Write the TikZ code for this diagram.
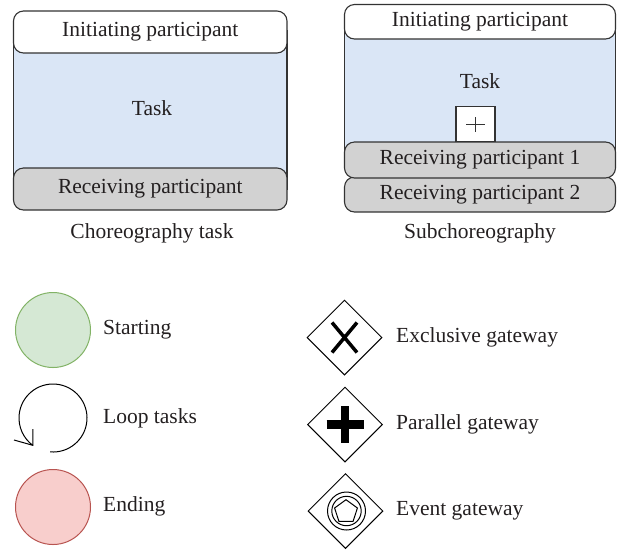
\documentclass[tikz,border=0pt]{standalone}
\usepackage{fontspec}
\setmainfont{Liberation Serif}
\usetikzlibrary{shapes.geometric,calc}
\definecolor{txt}{HTML}{231F20}
\definecolor{edge}{HTML}{333333}
\definecolor{taskblue}{HTML}{DAE6F6}
\definecolor{bandgray}{HTML}{D2D2D2}
\definecolor{startfill}{HTML}{D5E8D4}
\definecolor{startline}{HTML}{82B366}
\definecolor{endfill}{HTML}{F8CECC}
\definecolor{endline}{HTML}{B85450}
\tikzset{
  every node/.style={text=txt, font=\fontsize{21.5}{25}\selectfont},
  band/.style={draw=edge, line width=1.1pt, rounded corners=10pt, inner sep=0pt, anchor=center},
  lbl/.style={anchor=west, inner sep=0pt},
  event/.style={circle, minimum size=75pt, inner sep=0pt, line width=1pt},
  gate/.style={diamond, draw=black, line width=1pt, minimum size=75pt, inner sep=0pt},
}
\begin{document}
\begin{tikzpicture}[x=1pt,y=-1pt]
\useasboundingbox (0,0) rectangle (617,550);
% Choreography task
\fill[taskblue] (13.5,30) rectangle (287,190);
\draw[edge, line width=1.1pt] (13.5,30) -- (13.5,190) (287,30) -- (287,190);
\node[band, fill=white, minimum width=273.5pt, minimum height=42pt] (ci) at (150.25,32) {Initiating participant};
\node[band, fill=bandgray, minimum width=273.5pt, minimum height=42pt] (cr) at (150.25,189) {Receiving participant};
\node (ct) at (152,108) {Task};
\node (cl) at (152,233) {Choreography task};
% Subchoreography
\fill[taskblue] (344.5,20) rectangle (615.5,160);
\draw[edge, line width=1.1pt] (344.5,20) -- (344.5,160) (615.5,20) -- (615.5,160);
\node[band, fill=white, minimum width=271pt, minimum height=34.5pt] (si) at (480,21.75) {Initiating participant};
\node (st) at (480,81) {Task};
\node[band, fill=bandgray, minimum width=271pt, minimum height=35pt] (sr2) at (480,194.5) {Receiving participant 2};
\node[band, fill=bandgray, minimum width=271pt, minimum height=36pt] (sr1) at (480,160) {Receiving participant 1};
\node[draw=edge, fill=white, line width=1.1pt, minimum width=39pt, minimum height=35pt, inner sep=0pt] (plus) at (475.5,124.2) {};
\draw[edge, line width=0.9pt] ([xshift=-9.5pt]plus.center) -- ([xshift=9.5pt]plus.center)
  ([yshift=-7.5pt]plus.center) -- ([yshift=7.5pt]plus.center);
\node (sl) at (480,233) {Subchoreography};
% Events
\node[event, draw=startline, fill=startfill] (start) at (53,330) {};
\node[lbl] (startl) at (103,330) {Starting};
\coordinate (loopc) at (53,418);
\coordinate (tip) at (32.8,445.3);
\draw[black, line width=1pt] ($(loopc)+(95:34)$) arc[start angle=95, end angle=-233.5, radius=34];
\draw[black, line width=1pt] (14,440) -- (tip) -- (32.8,429);
\node[lbl] (loopl) at (103,418) {Loop tasks};
\node[event, draw=endline, fill=endfill] (end) at (53,507) {};
\node[lbl] (endl) at (103,506) {Ending};
% Gateways
\node[gate] (xg) at (344.5,337.5) {};
\draw[black, line width=3.5pt] ($(xg)+(-12.5,-15)$) -- ($(xg)+(12.5,15)$)
  ($(xg)+(12.5,-15)$) -- ($(xg)+(-12.5,15)$);
\node[lbl] (xgl) at (396,337) {Exclusive gateway};
\node[gate] (pg) at (345,424.5) {};
\draw[black, line width=8.5pt] ($(pg)+(-18.5,0)$) -- ($(pg)+(18.5,0)$)
  ($(pg)+(0,-18.5)$) -- ($(pg)+(0,18.5)$);
\node[lbl] (pgl) at (396,424) {Parallel gateway};
\node[gate] (eg) at (345.5,511) {};
\draw[black, line width=1pt] (346.5,511) circle[radius=19] (346.5,511) circle[radius=14.7];
\node[regular polygon, regular polygon sides=5, draw=black, line width=1pt, minimum size=24pt, inner sep=0pt] (pent) at (346,511.7) {};
\node[lbl] (egl) at (396,511) {Event gateway};
\end{tikzpicture}
\end{document}
